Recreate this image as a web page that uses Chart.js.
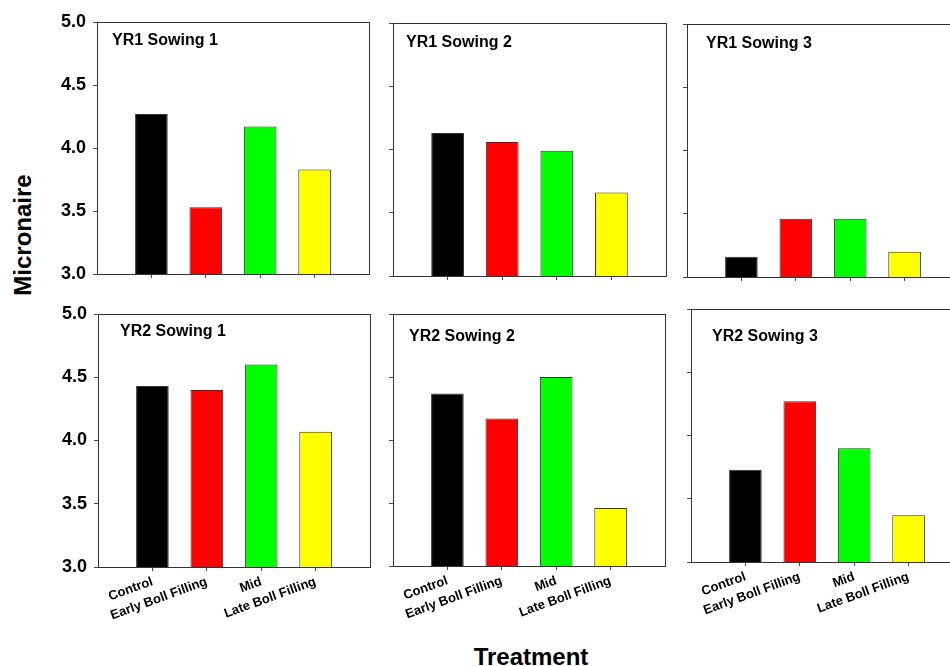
<!DOCTYPE html>
<html>
<head>
<meta charset="utf-8">
<script src="https://cdn.jsdelivr.net/npm/chart.js@4.4.0/dist/chart.umd.min.js"></script>
<style>
  body { margin: 0; width: 950px; height: 666px; overflow: hidden; background: #fff; position: relative;
         font-family: 'Liberation Sans', Arial, sans-serif; }
  canvas { position: absolute; }
  .axis-title { position: absolute; font-weight: bold; font-size: 24px; line-height: 24px; white-space: nowrap; color: #000; }
  #ytitle { left: 23px; top: 235px; transform: translate(-50%, -50%) rotate(-90deg); }
  #xtitle { left: 531px; top: 645px; transform: translateX(-50%); }
</style>
</head>
<body>
<div id="ytitle" class="axis-title">Micronaire</div>
<div id="xtitle" class="axis-title">Treatment</div>
<script>
// treatments on the x axis, one bar colour each
const treatments = ['Control', 'Early Boll Filling', 'Mid', 'Late Boll Filling'];
const barColors = ['#000000', '#ff0000', '#00ff00', '#ffff00'];
const yTicks = [3.0, 3.5, 4.0, 4.5, 5.0];

// micronaire per panel, in treatment order
const yr1Sowing1 = [4.27, 3.53, 4.17, 3.83];
const yr1Sowing2 = [4.13, 4.06, 3.99, 3.66];
const yr1Sowing3 = [3.16, 3.46, 3.46, 3.20];
const yr2Sowing1 = [4.43, 4.40, 4.60, 4.07];
const yr2Sowing2 = [4.37, 4.17, 4.50, 3.46];
const yr2Sowing3 = [3.73, 4.27, 3.90, 3.37];

const FONT = "'Liberation Sans', Arial, sans-serif";

// plot box [left, top, right, bottom] of each panel on the page
const panels = [
    { values: yr1Sowing1, title: 'YR1 Sowing 1', box: [97, 22, 369, 274], yLabels: true, xLabels: false, titleAt: [15, 11] },
    { values: yr1Sowing2, title: 'YR1 Sowing 2', box: [393, 23, 666, 276], yLabels: false, xLabels: false, titleAt: [13, 12] },
    { values: yr1Sowing3, title: 'YR1 Sowing 3', box: [687, 24, 959, 277], yLabels: false, xLabels: false, titleAt: [19, 12] },
    { values: yr2Sowing1, title: 'YR2 Sowing 1', box: [98, 314, 370, 567], yLabels: true, xLabels: true, titleAt: [22, 10] },
    { values: yr2Sowing2, title: 'YR2 Sowing 2', box: [393, 314, 665, 566], yLabels: false, xLabels: true, titleAt: [16, 15] },
    { values: yr2Sowing3, title: 'YR2 Sowing 3', box: [691, 309, 963, 562], yLabels: false, xLabels: true, titleAt: [21, 20] }
];

// box around the plot area
const framePlugin = {
    id: 'frame',
    afterDatasetsDraw(chart) {
        const { ctx, chartArea: a } = chart;
        ctx.save();
        ctx.strokeStyle = '#333';
        ctx.lineWidth = 1;
        const l = Math.round(a.left), t = Math.round(a.top);
        ctx.strokeRect(l + 0.5, t + 0.5, Math.round(a.right) - l, Math.round(a.bottom) - t);
        ctx.restore();
    }
};

// panel label inside the top-left corner
const titlePlugin = {
    id: 'panelTitle',
    afterDraw(chart, args, opts) {
        const { ctx, chartArea: a } = chart;
        ctx.save();
        ctx.font = 'bold 16px ' + FONT;
        ctx.fillStyle = '#000';
        ctx.textBaseline = 'alphabetic';
        ctx.textAlign = 'left';
        ctx.fillText(opts.text, a.left + opts.dx, a.top + opts.dy + 11.5);
        ctx.restore();
    }
};

panels.forEach(p => {
    // generous margins so the tick labels never push the plot box around
    const W = 60, T = 25, R = 10;
    const H = p.xLabels ? 70 : 25;
    const [left, top, right, bottom] = p.box;

    const canvas = document.createElement('canvas');
    const cw = right - left + W + R;
    const ch = bottom - top + T + H;
    canvas.width = cw;
    canvas.height = ch;
    canvas.style.left = (left - W) + 'px';
    canvas.style.top = (top - T) + 'px';
    canvas.style.width = cw + 'px';
    canvas.style.height = ch + 'px';
    document.body.appendChild(canvas);

    new Chart(canvas, {
        type: 'bar',
        data: {
            datasets: [{
                data: p.values.map((v, i) => ({ x: i + 1, y: v })),
                backgroundColor: barColors,
                borderColor: '#333',
                borderWidth: 1,
                barPercentage: 0.6,
                categoryPercentage: 1
            }]
        },
        options: {
            responsive: false,
            animation: false,
            devicePixelRatio: 1,
            layout: { autoPadding: false, padding: { left: 0, top: T, right: R, bottom: 0 } },
            plugins: {
                legend: { display: false },
                tooltip: { enabled: false },
                panelTitle: { text: p.title, dx: p.titleAt[0], dy: p.titleAt[1] }
            },
            scales: {
                x: {
                    type: 'linear',
                    min: 0,
                    max: 5,
                    offset: false,
                    grid: { offset: false, drawOnChartArea: false, drawTicks: true, tickLength: 4, color: '#444' },
                    border: { display: false },
                    afterBuildTicks: axis => { axis.ticks = treatments.map((t, i) => ({ value: i + 1 })); },
                    afterFit: scale => { scale.height = H; },
                    ticks: {
                        display: p.xLabels,
                        autoSkip: false,
                        minRotation: 20,
                        maxRotation: 20,
                        padding: 3,
                        color: '#000',
                        font: { family: FONT, size: 13, weight: 'bold' },
                        callback: v => treatments[v - 1]
                    }
                },
                y: {
                    type: 'linear',
                    min: 3,
                    max: 5,
                    grid: { drawOnChartArea: false, drawTicks: true, tickLength: 4, color: '#444' },
                    border: { display: false },
                    afterBuildTicks: axis => { axis.ticks = yTicks.map(v => ({ value: v })); },
                    afterFit: scale => { scale.width = W; },
                    ticks: {
                        display: p.yLabels,
                        padding: 7,
                        color: '#000',
                        font: { family: FONT, size: 18, weight: 'bold' },
                        callback: v => v.toFixed(1)
                    }
                }
            }
        },
        plugins: [framePlugin, titlePlugin]
    });
});
</script>
</body>
</html>
